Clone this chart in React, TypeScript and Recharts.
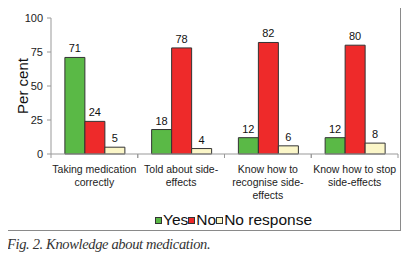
import React from "react";
import { BarChart, Bar, XAxis, YAxis, LabelList, Legend, Label } from "recharts";

const categories = [
  "Taking medication correctly",
  "Told about side-effects",
  "Know how to recognise side-effects",
  "Know how to stop side-effects",
];
const categoryLines = [
  ["Taking medication", "correctly"],
  ["Told about side-", "effects"],
  ["Know how to", "recognise side-", "effects"],
  ["Know how to stop", "side-effects"],
];
const yesValues = [71, 18, 12, 12];
const noValues = [24, 78, 82, 80];
const noResponseValues = [5, 4, 6, 8];
const yTicks = [0, 25, 50, 75, 100];

const series = [
  { key: "yes", name: "Yes", color: "#5ab946" },
  { key: "no", name: "No", color: "#ee2a2a" },
  { key: "noResponse", name: "No response", color: "#fbf6c8" },
];

const data = categories.map((c, i) => ({
  category: c,
  yes: yesValues[i],
  no: noValues[i],
  noResponse: noResponseValues[i],
}));

const FONT = "'Liberation Sans', Arial, sans-serif";
const CHART_W = 411;
const MARGIN = { top: 18, right: 13, bottom: 0, left: 0 };
const Y_W = 51;
const HALF_BAND = (CHART_W - MARGIN.left - MARGIN.right - Y_W) / categories.length / 2;

const CategoryTick = (props: any) => {
  const { x, y, index } = props;
  const lines = categoryLines[index] || [];
  return (
    <g>
      <line x1={x - HALF_BAND} x2={x - HALF_BAND} y1={y - 8} y2={y - 4} stroke="#999" />
      <line x1={x + HALF_BAND} x2={x + HALF_BAND} y1={y - 8} y2={y - 4} stroke="#999" />
      <text x={x} y={y} textAnchor="middle" fontFamily={FONT} fontSize={10.5} fill="#222">
        {lines.map((l, i) => (
          <tspan key={i} x={x} dy={i === 0 ? 11 : 13}>
            {l}
          </tspan>
        ))}
      </text>
    </g>
  );
};

const LegendContent = () => (
  <div style={{ display: "flex", alignItems: "center", fontFamily: FONT, fontSize: 15.5, color: "#111", whiteSpace: "nowrap" }}>
    {series.map((s) => (
      <span key={s.key} style={{ display: "flex", alignItems: "center" }}>
        <span
          style={{
            display: "inline-block",
            width: 5,
            height: 5,
            background: s.color,
            border: "1px solid #333",
            marginRight: 1,
          }}
        />
        <span>{s.name}</span>
      </span>
    ))}
  </div>
);

export default function App() {
  return (
    <div style={{ position: "relative", width: 411, height: 262, margin: -8, background: "#fff" }}>
      <div
        style={{
          position: "absolute",
          left: 2,
          top: 2,
          width: 399,
          height: 229,
          border: "1px solid #8a8a8a",
          boxSizing: "border-box",
        }}
      />
      <div style={{ position: "absolute", left: 0, top: 0 }}>
        <BarChart
          width={CHART_W}
          height={262}
          data={data}
          margin={MARGIN}
          barCategoryGap="16%"
          barGap={0}
        >
          <XAxis
            dataKey="category"
            interval={0}
            height={108}
            tick={<CategoryTick />}
            tickLine={false}
            axisLine={{ stroke: "#999" }}
          />
          <YAxis
            width={Y_W}
            domain={[0, 100]}
            ticks={yTicks}
            interval={0}
            tick={{ fontFamily: FONT, fontSize: 11, fill: "#222" }}
            tickSize={4}
            tickMargin={4}
            tickLine={{ stroke: "#999" }}
            axisLine={{ stroke: "#999" }}
          >
            <Label
              value="Per cent"
              angle={-90}
              position="insideLeft"
              offset={23}
              style={{ fontFamily: FONT, fontSize: 15, fill: "#111", textAnchor: "middle" }}
            />
          </YAxis>
          <Legend
            layout="horizontal"
            verticalAlign="middle"
            align="center"
            content={<LegendContent />}
            wrapperStyle={{ top: 211, left: 155, width: "auto" }}
          />
          {series.map((s) => (
            <Bar
              key={s.key}
              dataKey={s.key}
              name={s.name}
              fill={s.color}
              stroke="#333"
              strokeWidth={1}
              isAnimationActive={false}
            >
              <LabelList
                dataKey={s.key}
                position="top"
                offset={5}
                style={{ fontFamily: FONT, fontSize: 11, fill: "#111" }}
              />
            </Bar>
          ))}
        </BarChart>
      </div>
      <div
        style={{
          position: "absolute",
          left: 7,
          top: 236,
          fontFamily: "'Liberation Serif', 'DejaVu Serif', serif",
          fontStyle: "italic",
          fontSize: 14.5,
          letterSpacing: -0.35,
          color: "#333",
          whiteSpace: "nowrap",
        }}
      >
        Fig. 2. Knowledge about medication.
      </div>
    </div>
  );
}
